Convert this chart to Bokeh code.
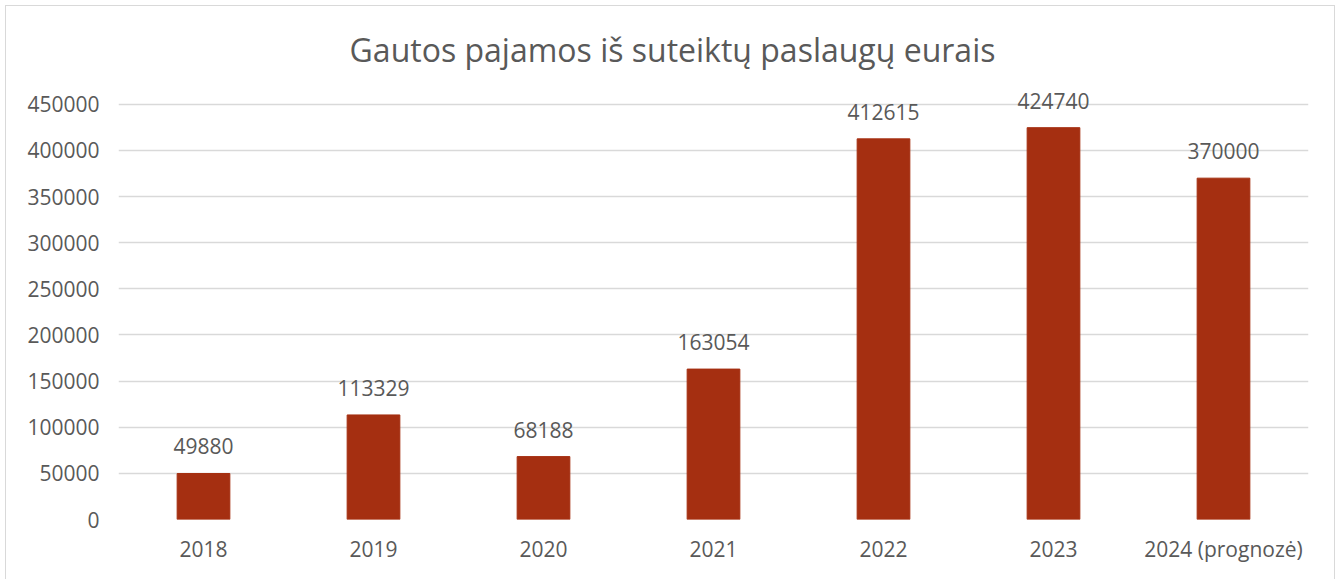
from bokeh.plotting import figure
from bokeh.models import ColumnDataSource, Range1d, FactorRange, FixedTicker
from bokeh.core.properties import value
from bokeh.embed import file_html
from bokeh.resources import INLINE

title = "Gautos pajamos iš suteiktų paslaugų eurais"
years = ["2018", "2019", "2020", "2021", "2022", "2023", "2024 (prognozė)"]
revenue = [49880, 113329, 68188, 163054, 412615, 424740, 370000]
labels = [str(v) for v in revenue]
y_ticks = [0, 50000, 100000, 150000, 200000, 250000, 300000, 350000, 400000, 450000]

TXT = "#595959"
FONT = "Open Sans"

src = ColumnDataSource(dict(x=years, top=revenue, lab=labels))

# y range extends above the top tick so that the title and labels sit inside the frame
Y_END = 542000
p = figure(
    x_range=FactorRange(*years, range_padding=0),
    y_range=Range1d(0, Y_END),
    width=1330, height=574,
    output_backend="svg", toolbar_location=None,
    min_border_left=112, min_border_right=28, min_border_top=13, min_border_bottom=61,
)
p.margin = (5, 0, 0, 5)
p.styles = {"border-left": "1.5px solid #d9d9d9", "border-top": "1.5px solid #d9d9d9",
            "border-right": "1.5px solid #d9d9d9"}

p.vbar(x="x", top="top", width=0.31, source=src, color="#A52F11")
p.text(x="x", y="top", text="lab", source=src, text_align="center",
       text_baseline="alphabetic", y_offset=-27, text_font=value(FONT),
       text_font_size="21px", text_color=TXT)

# chart title (centred on the whole chart, not on the plot frame)
p.text(x=[len(years) / 2 - 0.241], y=[509800], text=[title], text_align="center",
       text_baseline="middle", text_font=value(FONT), text_font_size="32px",
       text_color=TXT)

p.outline_line_color = None
p.xgrid.grid_line_color = None
p.ygrid.grid_line_color = "#d9d9d9"
p.ygrid.grid_line_width = 1.5
p.yaxis.ticker = FixedTicker(ticks=y_ticks)
p.yaxis.formatter.use_scientific = False

for ax in (p.xaxis, p.yaxis):
    ax.axis_line_color = None
    ax.major_tick_line_color = None
    ax.minor_tick_line_color = None
    ax.major_tick_out = 0
    ax.major_tick_in = 0
    ax.major_label_text_font = FONT
    ax.major_label_text_font_size = "21px"
    ax.major_label_text_color = TXT
p.yaxis.major_label_standoff = 19
p.xaxis.major_label_standoff = 15

open("out.html", "w").write(file_html(p, INLINE))
